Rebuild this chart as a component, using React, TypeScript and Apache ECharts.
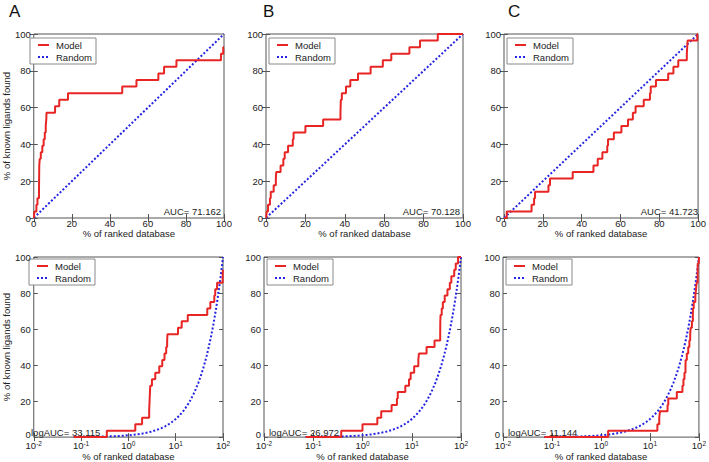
import React, { useEffect, useRef } from 'react';
import * as echarts from 'echarts';

const N_LIGANDS = 28;
const FIRST_RANK_PCT = 0.07;
const panelLetters = ['A', 'B', 'C'];
const legendNames = ['Model', 'Random'];

// % of ranked database at which each known ligand is retrieved (sorted)
const ligandPctA = [0.35, 1.4, 1.95, 2.75, 2.78, 2.82, 2.86, 2.9, 3.15, 3.7, 4.5, 5.2, 5.8, 6.3, 6.6, 6.7, 11.2, 13.4, 18.0, 46.5, 54.0, 65.5, 68.5, 75.0, 98.4, 99.6];
const ligandPctB = [0.37, 1.0, 2.0, 2.4, 3.9, 5.0, 5.2, 7.4, 8.8, 9.5, 11.2, 13.6, 14.0, 20.0, 29.0, 37.8, 37.9, 38.0, 38.5, 40.6, 42.8, 46.7, 53.1, 59.3, 63.6, 72.8, 78.2, 87.2];
const ligandPctC = [1.4, 14.2, 15.5, 16.0, 22.9, 23.7, 35.4, 46.1, 48.3, 50.7, 53.2, 53.6, 56.6, 60.5, 63.9, 66.4, 67.8, 72.0, 75.2, 75.6, 78.3, 84.6, 87.3, 89.8, 94.2, 94.4, 94.6, 99.6];

// Random baseline: % found equals % of database screened
const randomPct = [0.07, 0.1, 0.13, 0.17, 0.2, 0.25, 0.3, 0.4, 0.5, 0.6, 0.7, 0.85, 1, 1.2, 1.5, 2, 2.5, 3, 4, 5, 6, 7, 8.5, 10, 12, 15, 18, 21, 25, 30, 35, 40, 45, 50, 55, 60, 65, 70, 75, 80, 85, 90, 95, 100];

const aucValues = ['71.162', '70.128', '41.723'];
const logAucValues = ['33.115', '26.972', '11.144'];

const FONT = 'Liberation Sans, Arial, sans-serif';
const RED = '#e82525';
const BLUE = '#2424e0';
const FRAME = '#555';
const TXT = '#222';

const gridPos = [
  { left: 27, top: 34 }, { left: 266, top: 34 }, { left: 504, top: 34 },
  { left: 26, top: 257 }, { left: 264, top: 257 }, { left: 503, top: 257 },
];
const W = 197;
const H = 184;

function modelPoints(pcts: number[]) {
  const pts: number[][] = [[FIRST_RANK_PCT, 0]];
  pcts.forEach((x, i) => pts.push([x, ((i + 1) / N_LIGANDS) * 100]));
  pts.push([100, (pcts.length / N_LIGANDS) * 100]);
  return pts;
}

function legendBox(x: number, y: number) {
  return {
    type: 'group', x, y, z: 20,
    children: [
      { type: 'rect', shape: { x: 0, y: 0, width: 66, height: 26 }, style: { fill: '#fff', stroke: '#8a8a8a', lineWidth: 1 } },
      { type: 'line', shape: { x1: 8, y1: 7, x2: 19, y2: 7 }, style: { stroke: RED, lineWidth: 2 } },
      { type: 'text', x: 26, y: 7, style: { text: legendNames[0], fontSize: 9.5, fontFamily: FONT, fill: TXT, textVerticalAlign: 'middle' } },
      { type: 'line', shape: { x1: 8, y1: 19, x2: 20, y2: 19 }, style: { stroke: BLUE, lineWidth: 2, lineDash: [2, 2] } },
      { type: 'text', x: 26, y: 19, style: { text: legendNames[1], fontSize: 9.5, fontFamily: FONT, fill: TXT, textVerticalAlign: 'middle' } },
    ],
  };
}

export default function App() {
  const ref = useRef<HTMLDivElement>(null);
  useEffect(() => {
    if (!ref.current) return;
    const chart = echarts.init(ref.current, undefined, { renderer: 'svg' });
    const datasets = [ligandPctA, ligandPctB, ligandPctC];
    const grid: any[] = [];
    const xAxis: any[] = [];
    const yAxis: any[] = [];
    const series: any[] = [];
    const graphic: any[] = [];

    for (let p = 0; p < 6; p++) {
      const col = p % 3;
      const isLog = p >= 3;
      const g = gridPos[p];
      grid.push({ left: g.left, top: g.top, width: W, height: H, show: true, borderColor: FRAME, borderWidth: 1, backgroundColor: 'transparent' });
      const tick = { show: true, inside: true, length: 4, lineStyle: { color: FRAME } };
      const xBase: any = isLog
        ? { type: 'log', logBase: 10, min: 0.01, max: 100 }
        : { type: 'value', min: 0, max: 100, interval: 20 };
      xAxis.push({
        ...xBase, gridIndex: p, position: 'bottom',
        axisLine: { show: false }, axisTick: tick, splitLine: { show: false },
        axisLabel: isLog
          ? {
              color: TXT, margin: 3,
              formatter: (v: number) => `{b|10}{e|${Math.round(Math.log10(v))}}`,
              rich: {
                b: { fontSize: 9.5, fontFamily: FONT, color: TXT, lineHeight: 10, verticalAlign: 'bottom' },
                e: { fontSize: 6.5, fontFamily: FONT, color: TXT, lineHeight: 10, verticalAlign: 'top' },
              },
            }
          : { fontSize: 9.5, fontFamily: FONT, color: TXT, margin: 1, lineHeight: 8 },
        name: '% of ranked database', nameLocation: 'middle', nameGap: isLog ? 13 : 6,
        nameTextStyle: { fontSize: 9.5, fontFamily: FONT, color: TXT, verticalAlign: 'top', lineHeight: 10 },
      });
      xAxis.push({
        ...xBase, gridIndex: p, position: 'top',
        axisLine: { show: false }, axisTick: tick, splitLine: { show: false }, axisLabel: { show: false },
      });
      yAxis.push({
        type: 'value', min: 0, max: 100, interval: 20, gridIndex: p, position: 'left',
        axisLine: { show: false }, axisTick: tick, splitLine: { show: false },
        axisLabel: {
          fontSize: 9.5, fontFamily: FONT, color: TXT, margin: 3, lineHeight: 8,
          formatter: (v: number) => (isLog && v === 0 ? '{z|0}' : `${v}`),
          rich: { z: { fontSize: 9.5, fontFamily: FONT, color: TXT, lineHeight: 8, padding: [0, 0, 6, 0] } },
        },
        name: col === 0 ? '% of known ligands found' : '', nameLocation: 'middle', nameGap: 19,
        nameTextStyle: { fontSize: 9.5, fontFamily: FONT, color: TXT },
      });
      yAxis.push({
        type: 'value', min: 0, max: 100, interval: 20, gridIndex: p, position: 'right',
        axisLine: { show: false }, axisTick: tick, splitLine: { show: false }, axisLabel: { show: false },
      });

      series.push({
        name: legendNames[1], type: 'line', xAxisIndex: 2 * p, yAxisIndex: 2 * p,
        data: randomPct.map((v) => [v, v]), symbol: 'none', silent: true,
        lineStyle: { color: BLUE, width: 2, type: [2, 2] }, itemStyle: { color: BLUE }, z: 2,
      });
      series.push({
        name: legendNames[0], type: 'line', xAxisIndex: 2 * p, yAxisIndex: 2 * p,
        data: modelPoints(datasets[col]), step: 'end', symbol: 'none', silent: true,
        lineStyle: { color: RED, width: 2 }, itemStyle: { color: RED }, z: 3,
      });

      graphic.push(legendBox(g.left + 3, g.top + (isLog ? 2 : 4)));

      if (isLog) {
        graphic.push({
          type: 'text', x: g.left + 5, y: g.top + H - 4, z: 10,
          style: { text: `logAUC= ${logAucValues[col]}`, fontSize: 9.5, fontFamily: FONT, fill: TXT, textAlign: 'left', textVerticalAlign: 'bottom' },
        });
      } else {
        graphic.push({
          type: 'text', x: g.left + W - 3, y: g.top + H - 2, z: 10,
          style: { text: `AUC= ${aucValues[col]}`, fontSize: 9.5, fontFamily: FONT, fill: TXT, textAlign: 'right', textVerticalAlign: 'bottom' },
        });
        graphic.push({
          type: 'text', x: [9, 263, 508][col], y: 3,
          style: { text: panelLetters[col], fontSize: 17, fontFamily: FONT, fill: '#111' },
        });
      }
    }

    chart.setOption({
      animation: false,
      backgroundColor: '#fff',
      grid, xAxis, yAxis, series, graphic,
    });
    return () => chart.dispose();
  }, []);
  return <div ref={ref} style={{ position: 'fixed', left: 0, top: 0, width: 709, height: 462 }} />;
}
